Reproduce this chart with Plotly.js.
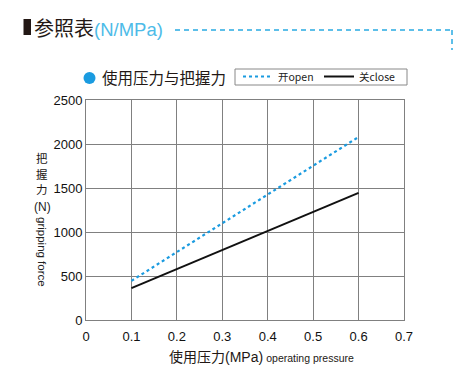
<!DOCTYPE html>
<html><head><meta charset="utf-8">
<script src="https://cdn.plot.ly/plotly-3.0.1.min.js"></script>
<style>body{margin:0;background:#fff}#c{width:476px;height:376px}</style>
</head><body><div id="c"></div>
<script>
const pressure = [0.1, 0.6];
const openForce = [445, 2080];
const closeForce = [362, 1445];
const seriesNames = ['开open', '关close'];
const xTicks = [0, 0.1, 0.2, 0.3, 0.4, 0.5, 0.6, 0.7];
const yTicks = [0, 500, 1000, 1500, 2000, 2500];

const L = 86, R = 404, T = 100, B = 320;
const px = x => (x - L) / (R - L);
const py = y => (B - y) / (B - T);
const fnt = 'Liberation Sans, Arial, sans-serif';
const cjk = 'Noto Sans CJK SC, sans-serif';

const traces = [
  {x: pressure, y: openForce, name: seriesNames[0], mode: 'lines',
   line: {color: '#1a9be0', width: 2.2, dash: 'dot'}},
  {x: pressure, y: closeForce, name: seriesNames[1], mode: 'lines',
   line: {color: '#111', width: 2}}
];

const ann = (x, y, text, size, extra) => Object.assign({xref: 'paper', yref: 'paper',
  x: px(x), y: py(y), xanchor: 'center', yanchor: 'middle', showarrow: false, text: text,
  font: {family: cjk, size: size, color: '#231815'}}, extra || {});

const layout = {
  width: 476, height: 376,
  margin: {l: L, r: 476 - R, t: T, b: 376 - B},
  paper_bgcolor: '#fff', plot_bgcolor: '#fff',
  font: {family: fnt, color: '#111', size: 12},
  showlegend: true,
  legend: {orientation: 'h', x: px(238), y: py(62), xanchor: 'left', yanchor: 'top',
    bgcolor: 'rgba(0,0,0,0)', borderwidth: 0, font: {size: 10.5, family: cjk, color: '#222'},
    itemwidth: 30, entrywidth: 36, entrywidthmode: 'pixels', tracegroupgap: 0},
  xaxis: {range: [0, 0.7], tickvals: xTicks, ticktext: xTicks.map(String), showgrid: true,
    gridcolor: '#808080', gridwidth: 1, zeroline: false, showline: true, linecolor: '#808080',
    ticks: '', tickfont: {size: 13}, mirror: true, ticklabelstandoff: 4},
  yaxis: {range: [0, 2500], tickvals: yTicks, ticktext: yTicks.map(String), showgrid: true,
    gridcolor: '#808080', gridwidth: 1, zeroline: false, showline: true, linecolor: '#808080',
    ticks: '', tickfont: {size: 13}, mirror: true},
  shapes: [
    {type: 'rect', xref: 'paper', yref: 'paper', x0: px(23.5), x1: px(31), y0: py(19), y1: py(35),
     fillcolor: '#231815', line: {width: 0}},
    {type: 'line', xref: 'paper', yref: 'paper', x0: px(175), x1: px(452), y0: py(30), y1: py(30),
     line: {color: '#29abe2', width: 1.5, dash: '5px,4px'}},
    {type: 'line', xref: 'paper', yref: 'paper', x0: px(452), x1: px(452), y0: py(30), y1: py(50),
     line: {color: '#29abe2', width: 1.5, dash: '5px,4px'}},
    {type: 'circle', xref: 'paper', yref: 'paper', x0: px(83.5), x1: px(95.5), y0: py(72), y1: py(84),
     fillcolor: '#1a9be0', line: {width: 0}},
    {type: 'rect', xref: 'paper', yref: 'paper', x0: px(235), x1: px(407), y0: py(69), y1: py(85),
     fillcolor: 'rgba(0,0,0,0)', line: {color: '#888', width: 1}}
  ],
  annotations: [
    ann(32, 27, '参照表<span style="color:#4dbbe8;font-family:Liberation Sans;font-size:18.5px">(N/MPa)</span>', 20, {xanchor: 'left'}),
    ann(100, 77, '使用压力与把握力', 15.5, {xanchor: 'left'}),
    ann(42, 158, '把', 11.5),
    ann(42, 173.5, '握', 11.5),
    ann(42, 189, '力', 11.5),
    ann(42, 207, '(N)', 12, {font: {family: fnt, size: 12, color: '#222'}}),
    ann(42, 252, 'gripping force', 11, {textangle: 90, font: {family: fnt, size: 11.5, color: '#222'}}),
    ann(261, 356, '使用压力<span style="font-family:Liberation Sans">(MPa)</span> <span style="font-size:10.5px;font-family:Liberation Sans">operating pressure</span>', 14)
  ]
};
Plotly.newPlot('c', traces, layout, {displayModeBar: false, staticPlot: true});
</script></body></html>
